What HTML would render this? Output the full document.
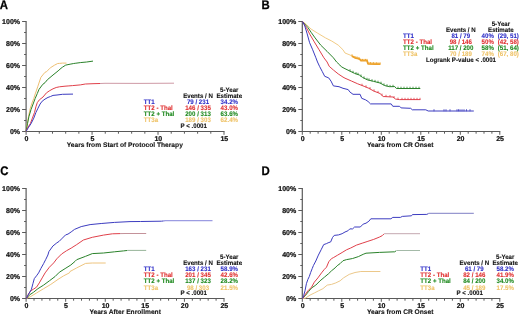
<!DOCTYPE html>
<html><head><meta charset="utf-8"><style>
html,body{margin:0;padding:0;background:#fff;}
svg{display:block;font-family:"Liberation Sans", sans-serif;will-change:transform;text-rendering:geometricPrecision;}
</style></head><body>
<svg width="520" height="314" viewBox="0 0 520 314">
<rect width="520" height="314" fill="#fff"/>
<text transform="translate(-0.3,8.8) scale(0.92,1)" font-size="12.4" font-weight="bold" fill="#000" stroke="#000" stroke-width="0.25">A</text>
<text transform="translate(261.4,8.8) scale(0.92,1)" font-size="12.4" font-weight="bold" fill="#000" stroke="#000" stroke-width="0.25">B</text>
<text transform="translate(0.2,174.6) scale(0.92,1)" font-size="12.4" font-weight="bold" fill="#000" stroke="#000" stroke-width="0.25">C</text>
<text transform="translate(261.4,174.5) scale(0.92,1)" font-size="12.4" font-weight="bold" fill="#000" stroke="#000" stroke-width="0.25">D</text>
<line x1="26.1" y1="21.0" x2="26.1" y2="132.0" stroke="#5a5a5a" stroke-width="1.2"/>
<line x1="22.1" y1="131.50" x2="26.1" y2="131.50" stroke="#5a5a5a" stroke-width="1"/>
<text x="20.0" y="134.2" font-size="7.0" text-anchor="end" fill="#111" font-weight="bold" stroke="#111" stroke-width="0.22" >0%</text>
<line x1="24.1" y1="120.50" x2="26.1" y2="120.50" stroke="#5a5a5a" stroke-width="1"/>
<line x1="22.1" y1="109.50" x2="26.1" y2="109.50" stroke="#5a5a5a" stroke-width="1"/>
<text x="20.0" y="112.2" font-size="7.0" text-anchor="end" fill="#111" font-weight="bold" stroke="#111" stroke-width="0.22" >20%</text>
<line x1="24.1" y1="98.50" x2="26.1" y2="98.50" stroke="#5a5a5a" stroke-width="1"/>
<line x1="22.1" y1="87.50" x2="26.1" y2="87.50" stroke="#5a5a5a" stroke-width="1"/>
<text x="20.0" y="90.2" font-size="7.0" text-anchor="end" fill="#111" font-weight="bold" stroke="#111" stroke-width="0.22" >40%</text>
<line x1="24.1" y1="76.50" x2="26.1" y2="76.50" stroke="#5a5a5a" stroke-width="1"/>
<line x1="22.1" y1="65.50" x2="26.1" y2="65.50" stroke="#5a5a5a" stroke-width="1"/>
<text x="20.0" y="68.2" font-size="7.0" text-anchor="end" fill="#111" font-weight="bold" stroke="#111" stroke-width="0.22" >60%</text>
<line x1="24.1" y1="54.50" x2="26.1" y2="54.50" stroke="#5a5a5a" stroke-width="1"/>
<line x1="22.1" y1="43.50" x2="26.1" y2="43.50" stroke="#5a5a5a" stroke-width="1"/>
<text x="20.0" y="46.2" font-size="7.0" text-anchor="end" fill="#111" font-weight="bold" stroke="#111" stroke-width="0.22" >80%</text>
<line x1="24.1" y1="32.50" x2="26.1" y2="32.50" stroke="#5a5a5a" stroke-width="1"/>
<line x1="22.1" y1="21.50" x2="26.1" y2="21.50" stroke="#5a5a5a" stroke-width="1"/>
<text x="20.0" y="24.2" font-size="7.0" text-anchor="end" fill="#111" font-weight="bold" stroke="#111" stroke-width="0.22" >100%</text>
<line x1="25.6" y1="131.5" x2="224.5" y2="131.5" stroke="#5a5a5a" stroke-width="1.2"/>
<line x1="26.10" y1="131.5" x2="26.10" y2="134.8" stroke="#5a5a5a" stroke-width="1"/>
<text x="26.400000000000002" y="140.9" font-size="7.0" text-anchor="middle" fill="#111" font-weight="bold" stroke="#111" stroke-width="0.22" >0</text>
<line x1="39.29" y1="131.5" x2="39.29" y2="133.7" stroke="#5a5a5a" stroke-width="1"/>
<line x1="52.49" y1="131.5" x2="52.49" y2="133.7" stroke="#5a5a5a" stroke-width="1"/>
<line x1="65.68" y1="131.5" x2="65.68" y2="133.7" stroke="#5a5a5a" stroke-width="1"/>
<line x1="78.87" y1="131.5" x2="78.87" y2="133.7" stroke="#5a5a5a" stroke-width="1"/>
<line x1="92.07" y1="131.5" x2="92.07" y2="134.8" stroke="#5a5a5a" stroke-width="1"/>
<text x="92.36666666666666" y="140.9" font-size="7.0" text-anchor="middle" fill="#111" font-weight="bold" stroke="#111" stroke-width="0.22" >5</text>
<line x1="105.26" y1="131.5" x2="105.26" y2="133.7" stroke="#5a5a5a" stroke-width="1"/>
<line x1="118.45" y1="131.5" x2="118.45" y2="133.7" stroke="#5a5a5a" stroke-width="1"/>
<line x1="131.65" y1="131.5" x2="131.65" y2="133.7" stroke="#5a5a5a" stroke-width="1"/>
<line x1="144.84" y1="131.5" x2="144.84" y2="133.7" stroke="#5a5a5a" stroke-width="1"/>
<line x1="158.03" y1="131.5" x2="158.03" y2="134.8" stroke="#5a5a5a" stroke-width="1"/>
<text x="158.33333333333334" y="140.9" font-size="7.0" text-anchor="middle" fill="#111" font-weight="bold" stroke="#111" stroke-width="0.22" >10</text>
<line x1="171.23" y1="131.5" x2="171.23" y2="133.7" stroke="#5a5a5a" stroke-width="1"/>
<line x1="184.42" y1="131.5" x2="184.42" y2="133.7" stroke="#5a5a5a" stroke-width="1"/>
<line x1="197.61" y1="131.5" x2="197.61" y2="133.7" stroke="#5a5a5a" stroke-width="1"/>
<line x1="210.81" y1="131.5" x2="210.81" y2="133.7" stroke="#5a5a5a" stroke-width="1"/>
<line x1="224.00" y1="131.5" x2="224.00" y2="134.8" stroke="#5a5a5a" stroke-width="1"/>
<text x="224.3" y="140.9" font-size="7.0" text-anchor="middle" fill="#111" font-weight="bold" stroke="#111" stroke-width="0.22" >15</text>
<text x="66.7" y="147.4" font-size="6.67" text-anchor="start" fill="#111" font-weight="bold" stroke="#111" stroke-width="0.1" >Years from Start of Protocol Therapy</text>
<polyline points="26.0,131.5 27.2,124.0 28.6,116.0 30.3,108.2 32.0,103.0 33.8,98.4 35.2,94.0 36.6,90.0 37.7,86.8 40.9,77.3 43.5,74.1 45.0,72.3 46.7,71.6 49.8,68.3 50.5,67.7 54.6,65.1 57.7,63.5 59.4,63.4 62.5,63.1 66.5,63.1" fill="none" stroke="#eebf72" stroke-width="1.0" stroke-linejoin="round" opacity="1"/>
<polyline points="26.0,131.5 27.5,123.7 28.9,116.7 31.0,109.6 33.1,104.0 35.2,98.4 37.3,93.5 39.0,89.4 42.8,84.3 45.0,82.7 47.3,79.8 53.0,75.0 58.1,70.9 61.0,68.3 62.6,67.1 65.7,65.1 70.1,64.2 73.7,63.5 75.2,63.3 80.3,62.6 86.7,62.0 93.0,61.1" fill="none" stroke="#2a822a" stroke-width="1.0" stroke-linejoin="round" opacity="1"/>
<polyline points="26.0,131.5 27.5,127.9 30.3,123.7 32.4,118.1 34.5,112.5 35.9,106.8 37.3,102.6 39.4,99.8 43.0,97.0 46.5,92.8 49.8,90.6 53.0,88.8 56.2,87.5 59.4,86.8 65.0,86.2 68.9,85.9 72.6,85.6 80.3,84.9 85.4,84.0 93.0,83.7 100.0,83.5" fill="none" stroke="#e0404a" stroke-width="1.0" stroke-linejoin="round" opacity="1"/>
<polyline points="100.0,83.5 105.0,83.3 140.0,83.4 174.0,83.2" fill="none" stroke="#cf9aa6" stroke-width="1.0" stroke-linejoin="round" opacity="1"/>
<polyline points="26.0,131.5 28.2,127.9 31.0,123.7 33.8,118.1 35.9,112.5 38.0,108.2 40.1,104.0 42.2,101.2 45.0,99.1 48.0,97.4 50.5,96.5 53.0,95.4 57.0,95.0 62.5,94.3 73.0,94.1" fill="none" stroke="#3c3cc0" stroke-width="1.0" stroke-linejoin="round" opacity="1"/>
<text transform="translate(229.30,92.10) scale(0.93,1)" font-size="6.6" text-anchor="middle" fill="#111" font-weight="bold" stroke="#111" stroke-width="0.1" >5-Year</text>
<text transform="translate(198.00,98.10) scale(0.93,1)" font-size="6.6" text-anchor="middle" fill="#111" font-weight="bold" stroke="#111" stroke-width="0.1" >Events / N</text>
<text transform="translate(229.30,98.10) scale(0.93,1)" font-size="6.6" text-anchor="middle" fill="#111" font-weight="bold" stroke="#111" stroke-width="0.1" >Estimate</text>
<text transform="translate(143.80,103.90) scale(0.93,1)" font-size="6.6" text-anchor="start" fill="#3030c8" font-weight="bold" stroke="#3030c8" stroke-width="0.1" >TT1</text>
<text transform="translate(198.00,103.90) scale(0.93,1)" font-size="6.6" text-anchor="middle" fill="#3030c8" font-weight="bold" stroke="#3030c8" stroke-width="0.1" >79 / 231</text>
<text transform="translate(229.30,103.90) scale(0.93,1)" font-size="6.6" text-anchor="middle" fill="#3030c8" font-weight="bold" stroke="#3030c8" stroke-width="0.1" >34.2%</text>
<text transform="translate(143.80,110.00) scale(0.93,1)" font-size="6.6" text-anchor="start" fill="#e03030" font-weight="bold" stroke="#e03030" stroke-width="0.1" >TT2 - Thal</text>
<text transform="translate(198.00,110.00) scale(0.93,1)" font-size="6.6" text-anchor="middle" fill="#e03030" font-weight="bold" stroke="#e03030" stroke-width="0.1" >146 / 335</text>
<text transform="translate(229.30,110.00) scale(0.93,1)" font-size="6.6" text-anchor="middle" fill="#e03030" font-weight="bold" stroke="#e03030" stroke-width="0.1" >43.0%</text>
<text transform="translate(143.80,116.10) scale(0.93,1)" font-size="6.6" text-anchor="start" fill="#208a20" font-weight="bold" stroke="#208a20" stroke-width="0.1" >TT2 + Thal</text>
<text transform="translate(198.00,116.10) scale(0.93,1)" font-size="6.6" text-anchor="middle" fill="#208a20" font-weight="bold" stroke="#208a20" stroke-width="0.1" >200 / 313</text>
<text transform="translate(229.30,116.10) scale(0.93,1)" font-size="6.6" text-anchor="middle" fill="#208a20" font-weight="bold" stroke="#208a20" stroke-width="0.1" >63.6%</text>
<text transform="translate(143.80,122.20) scale(0.93,1)" font-size="6.6" text-anchor="start" fill="#efc46a" font-weight="bold" stroke="#efc46a" stroke-width="0.1" >TT3a</text>
<text transform="translate(198.00,122.20) scale(0.93,1)" font-size="6.6" text-anchor="middle" fill="#efc46a" font-weight="bold" stroke="#efc46a" stroke-width="0.1" >189 / 303</text>
<text transform="translate(229.30,122.20) scale(0.93,1)" font-size="6.6" text-anchor="middle" fill="#efc46a" font-weight="bold" stroke="#efc46a" stroke-width="0.1" >62.4%</text>
<text transform="translate(193.70,128.00) scale(0.93,1)" font-size="6.6" text-anchor="middle" fill="#111" font-weight="bold" stroke="#111" stroke-width="0.1" >P &lt; .0001</text>
<line x1="302.3" y1="21.0" x2="302.3" y2="132.0" stroke="#5a5a5a" stroke-width="1.2"/>
<line x1="298.3" y1="131.50" x2="302.3" y2="131.50" stroke="#5a5a5a" stroke-width="1"/>
<text x="296.2" y="134.2" font-size="7.0" text-anchor="end" fill="#111" font-weight="bold" stroke="#111" stroke-width="0.22" >0%</text>
<line x1="300.3" y1="120.50" x2="302.3" y2="120.50" stroke="#5a5a5a" stroke-width="1"/>
<line x1="298.3" y1="109.50" x2="302.3" y2="109.50" stroke="#5a5a5a" stroke-width="1"/>
<text x="296.2" y="112.2" font-size="7.0" text-anchor="end" fill="#111" font-weight="bold" stroke="#111" stroke-width="0.22" >20%</text>
<line x1="300.3" y1="98.50" x2="302.3" y2="98.50" stroke="#5a5a5a" stroke-width="1"/>
<line x1="298.3" y1="87.50" x2="302.3" y2="87.50" stroke="#5a5a5a" stroke-width="1"/>
<text x="296.2" y="90.2" font-size="7.0" text-anchor="end" fill="#111" font-weight="bold" stroke="#111" stroke-width="0.22" >40%</text>
<line x1="300.3" y1="76.50" x2="302.3" y2="76.50" stroke="#5a5a5a" stroke-width="1"/>
<line x1="298.3" y1="65.50" x2="302.3" y2="65.50" stroke="#5a5a5a" stroke-width="1"/>
<text x="296.2" y="68.2" font-size="7.0" text-anchor="end" fill="#111" font-weight="bold" stroke="#111" stroke-width="0.22" >60%</text>
<line x1="300.3" y1="54.50" x2="302.3" y2="54.50" stroke="#5a5a5a" stroke-width="1"/>
<line x1="298.3" y1="43.50" x2="302.3" y2="43.50" stroke="#5a5a5a" stroke-width="1"/>
<text x="296.2" y="46.2" font-size="7.0" text-anchor="end" fill="#111" font-weight="bold" stroke="#111" stroke-width="0.22" >80%</text>
<line x1="300.3" y1="32.50" x2="302.3" y2="32.50" stroke="#5a5a5a" stroke-width="1"/>
<line x1="298.3" y1="21.50" x2="302.3" y2="21.50" stroke="#5a5a5a" stroke-width="1"/>
<text x="296.2" y="24.2" font-size="7.0" text-anchor="end" fill="#111" font-weight="bold" stroke="#111" stroke-width="0.22" >100%</text>
<line x1="301.8" y1="131.5" x2="500.3" y2="131.5" stroke="#5a5a5a" stroke-width="1.2"/>
<line x1="302.30" y1="131.5" x2="302.30" y2="134.8" stroke="#5a5a5a" stroke-width="1"/>
<text x="302.6" y="140.9" font-size="7.0" text-anchor="middle" fill="#111" font-weight="bold" stroke="#111" stroke-width="0.22" >0</text>
<line x1="310.20" y1="131.5" x2="310.20" y2="133.7" stroke="#5a5a5a" stroke-width="1"/>
<line x1="318.10" y1="131.5" x2="318.10" y2="133.7" stroke="#5a5a5a" stroke-width="1"/>
<line x1="326.00" y1="131.5" x2="326.00" y2="133.7" stroke="#5a5a5a" stroke-width="1"/>
<line x1="333.90" y1="131.5" x2="333.90" y2="133.7" stroke="#5a5a5a" stroke-width="1"/>
<line x1="341.80" y1="131.5" x2="341.80" y2="134.8" stroke="#5a5a5a" stroke-width="1"/>
<text x="342.1" y="140.9" font-size="7.0" text-anchor="middle" fill="#111" font-weight="bold" stroke="#111" stroke-width="0.22" >5</text>
<line x1="349.70" y1="131.5" x2="349.70" y2="133.7" stroke="#5a5a5a" stroke-width="1"/>
<line x1="357.60" y1="131.5" x2="357.60" y2="133.7" stroke="#5a5a5a" stroke-width="1"/>
<line x1="365.50" y1="131.5" x2="365.50" y2="133.7" stroke="#5a5a5a" stroke-width="1"/>
<line x1="373.40" y1="131.5" x2="373.40" y2="133.7" stroke="#5a5a5a" stroke-width="1"/>
<line x1="381.30" y1="131.5" x2="381.30" y2="134.8" stroke="#5a5a5a" stroke-width="1"/>
<text x="381.6" y="140.9" font-size="7.0" text-anchor="middle" fill="#111" font-weight="bold" stroke="#111" stroke-width="0.22" >10</text>
<line x1="389.20" y1="131.5" x2="389.20" y2="133.7" stroke="#5a5a5a" stroke-width="1"/>
<line x1="397.10" y1="131.5" x2="397.10" y2="133.7" stroke="#5a5a5a" stroke-width="1"/>
<line x1="405.00" y1="131.5" x2="405.00" y2="133.7" stroke="#5a5a5a" stroke-width="1"/>
<line x1="412.90" y1="131.5" x2="412.90" y2="133.7" stroke="#5a5a5a" stroke-width="1"/>
<line x1="420.80" y1="131.5" x2="420.80" y2="134.8" stroke="#5a5a5a" stroke-width="1"/>
<text x="421.1" y="140.9" font-size="7.0" text-anchor="middle" fill="#111" font-weight="bold" stroke="#111" stroke-width="0.22" >15</text>
<line x1="428.70" y1="131.5" x2="428.70" y2="133.7" stroke="#5a5a5a" stroke-width="1"/>
<line x1="436.60" y1="131.5" x2="436.60" y2="133.7" stroke="#5a5a5a" stroke-width="1"/>
<line x1="444.50" y1="131.5" x2="444.50" y2="133.7" stroke="#5a5a5a" stroke-width="1"/>
<line x1="452.40" y1="131.5" x2="452.40" y2="133.7" stroke="#5a5a5a" stroke-width="1"/>
<line x1="460.30" y1="131.5" x2="460.30" y2="134.8" stroke="#5a5a5a" stroke-width="1"/>
<text x="460.6" y="140.9" font-size="7.0" text-anchor="middle" fill="#111" font-weight="bold" stroke="#111" stroke-width="0.22" >20</text>
<line x1="468.20" y1="131.5" x2="468.20" y2="133.7" stroke="#5a5a5a" stroke-width="1"/>
<line x1="476.10" y1="131.5" x2="476.10" y2="133.7" stroke="#5a5a5a" stroke-width="1"/>
<line x1="484.00" y1="131.5" x2="484.00" y2="133.7" stroke="#5a5a5a" stroke-width="1"/>
<line x1="491.90" y1="131.5" x2="491.90" y2="133.7" stroke="#5a5a5a" stroke-width="1"/>
<line x1="499.80" y1="131.5" x2="499.80" y2="134.8" stroke="#5a5a5a" stroke-width="1"/>
<text x="500.1" y="140.9" font-size="7.0" text-anchor="middle" fill="#111" font-weight="bold" stroke="#111" stroke-width="0.22" >25</text>
<text x="366.9" y="147.4" font-size="6.67" text-anchor="start" fill="#111" font-weight="bold" stroke="#111" stroke-width="0.1" >Years from CR Onset</text>
<polyline points="302.5,21.5 306.4,24.4 311.1,29.1 317.5,33.1 325.5,37.9 331.8,41.1 338.2,45.1 343.0,49.8 345.0,53.0 350.0,55.0 352.0,56.1" fill="none" stroke="#f2cc86" stroke-width="1.0" stroke-linejoin="round" opacity="1"/>
<polyline points="352.0,56.1 355.0,57.8 358.5,58.6 360.2,59.5 360.8,60.7 367.1,60.7 368.0,63.8 375.2,64.1 380.4,64.1" fill="none" stroke="#eca028" stroke-width="1.8" stroke-linejoin="round" opacity="1"/>
<polyline points="302.5,21.5 308.0,27.6 311.1,32.3 315.1,37.9 320.7,45.1 327.1,51.4 333.4,57.8 336.6,62.0 339.8,65.0 341.4,66.8 345.0,68.7 349.8,71.0 354.6,73.4 359.3,75.0 362.5,77.4 367.3,79.8 373.7,81.4 380.0,83.0 384.8,85.6 389.6,86.7 394.8,86.6 396.4,88.5 420.3,88.5" fill="none" stroke="#2a822a" stroke-width="1.0" stroke-linejoin="round" opacity="1"/>
<polyline points="302.5,21.5 306.4,27.6 309.6,33.9 314.3,41.9 319.1,49.8 323.9,57.8 327.1,62.0 329.2,66.3 333.4,70.0 338.2,73.9 343.0,77.1 345.0,78.2 351.4,81.0 357.7,83.8 364.1,86.3 368.9,88.3 373.7,91.0 380.0,93.5 383.2,96.5 393.0,97.0 395.6,99.1 399.6,99.6 420.3,99.6" fill="none" stroke="#e0404a" stroke-width="1.0" stroke-linejoin="round" opacity="1"/>
<polyline points="302.5,21.5 304.8,26.0 307.2,33.9 309.6,42.7 312.7,49.8 315.9,57.8 317.5,62.0 319.5,66.3 322.3,71.6 324.7,76.3 328.7,77.9 331.0,81.1 333.4,85.9 339.0,86.7 343.0,88.3 345.0,88.8 348.2,89.6 349.8,91.9 353.0,94.3 360.1,94.3 361.7,98.3 365.7,99.9 368.1,101.5 370.5,103.9 391.2,103.9 392.8,106.3 399.6,106.3 401.1,107.9 410.7,108.3 412.3,109.8 425.8,109.8 428.2,111.0 473.8,111.0" fill="none" stroke="#3c3cc0" stroke-width="1.0" stroke-linejoin="round" opacity="1"/>
<line x1="352.0" y1="56.4" x2="352.0" y2="54.3" stroke="#eea632" stroke-width="1.0"/>
<line x1="355.0" y1="58.1" x2="355.0" y2="56.0" stroke="#eea632" stroke-width="1.0"/>
<line x1="357.0" y1="58.6" x2="357.0" y2="56.5" stroke="#eea632" stroke-width="1.0"/>
<line x1="359.0" y1="59.2" x2="359.0" y2="57.1" stroke="#eea632" stroke-width="1.0"/>
<line x1="361.0" y1="61.0" x2="361.0" y2="58.9" stroke="#eea632" stroke-width="1.0"/>
<line x1="362.5" y1="61.0" x2="362.5" y2="58.9" stroke="#eea632" stroke-width="1.0"/>
<line x1="364.0" y1="61.0" x2="364.0" y2="58.9" stroke="#eea632" stroke-width="1.0"/>
<line x1="365.5" y1="61.0" x2="365.5" y2="58.9" stroke="#eea632" stroke-width="1.0"/>
<line x1="367.0" y1="61.0" x2="367.0" y2="58.9" stroke="#eea632" stroke-width="1.0"/>
<line x1="369.0" y1="64.1" x2="369.0" y2="62.0" stroke="#eea632" stroke-width="1.0"/>
<line x1="370.5" y1="64.2" x2="370.5" y2="62.1" stroke="#eea632" stroke-width="1.0"/>
<line x1="372.0" y1="64.3" x2="372.0" y2="62.2" stroke="#eea632" stroke-width="1.0"/>
<line x1="373.5" y1="64.3" x2="373.5" y2="62.2" stroke="#eea632" stroke-width="1.0"/>
<line x1="375.0" y1="64.4" x2="375.0" y2="62.3" stroke="#eea632" stroke-width="1.0"/>
<line x1="376.5" y1="64.4" x2="376.5" y2="62.3" stroke="#eea632" stroke-width="1.0"/>
<line x1="378.0" y1="64.4" x2="378.0" y2="62.3" stroke="#eea632" stroke-width="1.0"/>
<line x1="380.0" y1="64.4" x2="380.0" y2="62.3" stroke="#eea632" stroke-width="1.0"/>
<line x1="350.0" y1="71.4" x2="350.0" y2="69.3" stroke="#2a822a" stroke-width="0.8"/>
<line x1="353.0" y1="72.9" x2="353.0" y2="70.8" stroke="#2a822a" stroke-width="0.8"/>
<line x1="356.0" y1="74.2" x2="356.0" y2="72.1" stroke="#2a822a" stroke-width="0.8"/>
<line x1="358.0" y1="74.9" x2="358.0" y2="72.8" stroke="#2a822a" stroke-width="0.8"/>
<line x1="361.0" y1="76.6" x2="361.0" y2="74.5" stroke="#2a822a" stroke-width="0.8"/>
<line x1="364.0" y1="78.5" x2="364.0" y2="76.4" stroke="#2a822a" stroke-width="0.8"/>
<line x1="367.0" y1="79.9" x2="367.0" y2="77.8" stroke="#2a822a" stroke-width="0.8"/>
<line x1="369.0" y1="80.5" x2="369.0" y2="78.4" stroke="#2a822a" stroke-width="0.8"/>
<line x1="372.0" y1="81.3" x2="372.0" y2="79.2" stroke="#2a822a" stroke-width="0.8"/>
<line x1="375.0" y1="82.0" x2="375.0" y2="79.9" stroke="#2a822a" stroke-width="0.8"/>
<line x1="378.0" y1="82.8" x2="378.0" y2="80.7" stroke="#2a822a" stroke-width="0.8"/>
<line x1="381.0" y1="83.8" x2="381.0" y2="81.7" stroke="#2a822a" stroke-width="0.8"/>
<line x1="384.0" y1="85.5" x2="384.0" y2="83.4" stroke="#2a822a" stroke-width="0.8"/>
<line x1="387.0" y1="86.4" x2="387.0" y2="84.3" stroke="#2a822a" stroke-width="0.8"/>
<line x1="390.0" y1="87.0" x2="390.0" y2="84.9" stroke="#2a822a" stroke-width="0.8"/>
<line x1="393.0" y1="86.9" x2="393.0" y2="84.8" stroke="#2a822a" stroke-width="0.8"/>
<line x1="398.0" y1="88.8" x2="398.0" y2="86.7" stroke="#2a822a" stroke-width="0.8"/>
<line x1="401.0" y1="88.8" x2="401.0" y2="86.7" stroke="#2a822a" stroke-width="0.8"/>
<line x1="404.0" y1="88.8" x2="404.0" y2="86.7" stroke="#2a822a" stroke-width="0.8"/>
<line x1="407.0" y1="88.8" x2="407.0" y2="86.7" stroke="#2a822a" stroke-width="0.8"/>
<line x1="410.0" y1="88.8" x2="410.0" y2="86.7" stroke="#2a822a" stroke-width="0.8"/>
<line x1="413.0" y1="88.8" x2="413.0" y2="86.7" stroke="#2a822a" stroke-width="0.8"/>
<line x1="416.0" y1="88.8" x2="416.0" y2="86.7" stroke="#2a822a" stroke-width="0.8"/>
<line x1="419.0" y1="88.8" x2="419.0" y2="86.7" stroke="#2a822a" stroke-width="0.8"/>
<line x1="362.0" y1="85.8" x2="362.0" y2="83.7" stroke="#e0404a" stroke-width="0.8"/>
<line x1="366.0" y1="87.4" x2="366.0" y2="85.3" stroke="#e0404a" stroke-width="0.8"/>
<line x1="370.0" y1="89.2" x2="370.0" y2="87.1" stroke="#e0404a" stroke-width="0.8"/>
<line x1="374.0" y1="91.4" x2="374.0" y2="89.3" stroke="#e0404a" stroke-width="0.8"/>
<line x1="378.0" y1="93.0" x2="378.0" y2="90.9" stroke="#e0404a" stroke-width="0.8"/>
<line x1="382.0" y1="95.7" x2="382.0" y2="93.6" stroke="#e0404a" stroke-width="0.8"/>
<line x1="386.0" y1="96.9" x2="386.0" y2="94.8" stroke="#e0404a" stroke-width="0.8"/>
<line x1="390.0" y1="97.1" x2="390.0" y2="95.0" stroke="#e0404a" stroke-width="0.8"/>
<line x1="394.0" y1="98.1" x2="394.0" y2="96.0" stroke="#e0404a" stroke-width="0.8"/>
<line x1="398.0" y1="99.7" x2="398.0" y2="97.6" stroke="#e0404a" stroke-width="0.8"/>
<line x1="402.0" y1="99.9" x2="402.0" y2="97.8" stroke="#e0404a" stroke-width="0.8"/>
<line x1="405.0" y1="99.9" x2="405.0" y2="97.8" stroke="#e0404a" stroke-width="0.8"/>
<line x1="408.0" y1="99.9" x2="408.0" y2="97.8" stroke="#e0404a" stroke-width="0.8"/>
<line x1="411.0" y1="99.9" x2="411.0" y2="97.8" stroke="#e0404a" stroke-width="0.8"/>
<line x1="414.0" y1="99.9" x2="414.0" y2="97.8" stroke="#e0404a" stroke-width="0.8"/>
<line x1="417.0" y1="99.9" x2="417.0" y2="97.8" stroke="#e0404a" stroke-width="0.8"/>
<line x1="420.0" y1="99.9" x2="420.0" y2="97.8" stroke="#e0404a" stroke-width="0.8"/>
<line x1="434.0" y1="111.3" x2="434.0" y2="109.2" stroke="#3c3cc0" stroke-width="0.8"/>
<line x1="444.0" y1="111.3" x2="444.0" y2="109.2" stroke="#3c3cc0" stroke-width="0.8"/>
<line x1="446.0" y1="111.3" x2="446.0" y2="109.2" stroke="#3c3cc0" stroke-width="0.8"/>
<line x1="450.0" y1="111.3" x2="450.0" y2="109.2" stroke="#3c3cc0" stroke-width="0.8"/>
<line x1="457.0" y1="111.3" x2="457.0" y2="109.2" stroke="#3c3cc0" stroke-width="0.8"/>
<line x1="458.5" y1="111.3" x2="458.5" y2="109.2" stroke="#3c3cc0" stroke-width="0.8"/>
<line x1="460.0" y1="111.3" x2="460.0" y2="109.2" stroke="#3c3cc0" stroke-width="0.8"/>
<line x1="462.0" y1="111.3" x2="462.0" y2="109.2" stroke="#3c3cc0" stroke-width="0.8"/>
<line x1="464.0" y1="111.3" x2="464.0" y2="109.2" stroke="#3c3cc0" stroke-width="0.8"/>
<line x1="466.5" y1="111.3" x2="466.5" y2="109.2" stroke="#3c3cc0" stroke-width="0.8"/>
<line x1="470.0" y1="111.3" x2="470.0" y2="109.2" stroke="#3c3cc0" stroke-width="0.8"/>
<text transform="translate(500.90,25.90) scale(0.93,1)" font-size="6.6" text-anchor="middle" fill="#111" font-weight="bold" stroke="#111" stroke-width="0.1" >5-Year</text>
<text transform="translate(460.80,31.90) scale(0.93,1)" font-size="6.6" text-anchor="middle" fill="#111" font-weight="bold" stroke="#111" stroke-width="0.1" >Events / N</text>
<text transform="translate(500.90,31.90) scale(0.93,1)" font-size="6.6" text-anchor="middle" fill="#111" font-weight="bold" stroke="#111" stroke-width="0.1" >Estimate</text>
<text transform="translate(403.10,37.70) scale(0.93,1)" font-size="6.6" text-anchor="start" fill="#3030c8" font-weight="bold" stroke="#3030c8" stroke-width="0.1" >TT1</text>
<text transform="translate(460.80,37.70) scale(0.93,1)" font-size="6.6" text-anchor="middle" fill="#3030c8" font-weight="bold" stroke="#3030c8" stroke-width="0.1" >81 / 79</text>
<text transform="translate(481.60,37.70) scale(0.93,1)" font-size="6.6" text-anchor="start" fill="#3030c8" font-weight="bold" stroke="#3030c8" stroke-width="0.1" >40%</text>
<text transform="translate(497.70,37.70) scale(0.93,1)" font-size="6.6" text-anchor="start" fill="#3030c8" font-weight="bold" stroke="#3030c8" stroke-width="0.1" >(29, 51)</text>
<text transform="translate(403.10,43.80) scale(0.93,1)" font-size="6.6" text-anchor="start" fill="#e03030" font-weight="bold" stroke="#e03030" stroke-width="0.1" >TT2 - Thal</text>
<text transform="translate(460.80,43.80) scale(0.93,1)" font-size="6.6" text-anchor="middle" fill="#e03030" font-weight="bold" stroke="#e03030" stroke-width="0.1" >98 / 146</text>
<text transform="translate(481.60,43.80) scale(0.93,1)" font-size="6.6" text-anchor="start" fill="#e03030" font-weight="bold" stroke="#e03030" stroke-width="0.1" >50%</text>
<text transform="translate(497.70,43.80) scale(0.93,1)" font-size="6.6" text-anchor="start" fill="#e03030" font-weight="bold" stroke="#e03030" stroke-width="0.1" >(42, 58)</text>
<text transform="translate(403.10,49.90) scale(0.93,1)" font-size="6.6" text-anchor="start" fill="#208a20" font-weight="bold" stroke="#208a20" stroke-width="0.1" >TT2 + Thal</text>
<text transform="translate(460.80,49.90) scale(0.93,1)" font-size="6.6" text-anchor="middle" fill="#208a20" font-weight="bold" stroke="#208a20" stroke-width="0.1" >117 / 200</text>
<text transform="translate(481.60,49.90) scale(0.93,1)" font-size="6.6" text-anchor="start" fill="#208a20" font-weight="bold" stroke="#208a20" stroke-width="0.1" >58%</text>
<text transform="translate(497.70,49.90) scale(0.93,1)" font-size="6.6" text-anchor="start" fill="#208a20" font-weight="bold" stroke="#208a20" stroke-width="0.1" >(51, 64)</text>
<text transform="translate(403.10,56.00) scale(0.93,1)" font-size="6.6" text-anchor="start" fill="#efc46a" font-weight="bold" stroke="#efc46a" stroke-width="0.1" >TT3a</text>
<text transform="translate(460.80,56.00) scale(0.93,1)" font-size="6.6" text-anchor="middle" fill="#efc46a" font-weight="bold" stroke="#efc46a" stroke-width="0.1" >70 / 189</text>
<text transform="translate(481.60,56.00) scale(0.93,1)" font-size="6.6" text-anchor="start" fill="#efc46a" font-weight="bold" stroke="#efc46a" stroke-width="0.1" >74%</text>
<text transform="translate(497.70,56.00) scale(0.93,1)" font-size="6.6" text-anchor="start" fill="#efc46a" font-weight="bold" stroke="#efc46a" stroke-width="0.1" >(67, 80)</text>
<text transform="translate(461.00,61.80) scale(0.93,1)" font-size="6.6" text-anchor="middle" fill="#111" font-weight="bold" stroke="#111" stroke-width="0.1" >Logrank P-value &lt; .0001</text>
<line x1="26.1" y1="188.0" x2="26.1" y2="299.0" stroke="#5a5a5a" stroke-width="1.2"/>
<line x1="22.1" y1="298.50" x2="26.1" y2="298.50" stroke="#5a5a5a" stroke-width="1"/>
<text x="20.0" y="301.2" font-size="7.0" text-anchor="end" fill="#111" font-weight="bold" stroke="#111" stroke-width="0.22" >0%</text>
<line x1="24.1" y1="287.50" x2="26.1" y2="287.50" stroke="#5a5a5a" stroke-width="1"/>
<line x1="22.1" y1="276.50" x2="26.1" y2="276.50" stroke="#5a5a5a" stroke-width="1"/>
<text x="20.0" y="279.2" font-size="7.0" text-anchor="end" fill="#111" font-weight="bold" stroke="#111" stroke-width="0.22" >20%</text>
<line x1="24.1" y1="265.50" x2="26.1" y2="265.50" stroke="#5a5a5a" stroke-width="1"/>
<line x1="22.1" y1="254.50" x2="26.1" y2="254.50" stroke="#5a5a5a" stroke-width="1"/>
<text x="20.0" y="257.2" font-size="7.0" text-anchor="end" fill="#111" font-weight="bold" stroke="#111" stroke-width="0.22" >40%</text>
<line x1="24.1" y1="243.50" x2="26.1" y2="243.50" stroke="#5a5a5a" stroke-width="1"/>
<line x1="22.1" y1="232.50" x2="26.1" y2="232.50" stroke="#5a5a5a" stroke-width="1"/>
<text x="20.0" y="235.2" font-size="7.0" text-anchor="end" fill="#111" font-weight="bold" stroke="#111" stroke-width="0.22" >60%</text>
<line x1="24.1" y1="221.50" x2="26.1" y2="221.50" stroke="#5a5a5a" stroke-width="1"/>
<line x1="22.1" y1="210.50" x2="26.1" y2="210.50" stroke="#5a5a5a" stroke-width="1"/>
<text x="20.0" y="213.2" font-size="7.0" text-anchor="end" fill="#111" font-weight="bold" stroke="#111" stroke-width="0.22" >80%</text>
<line x1="24.1" y1="199.50" x2="26.1" y2="199.50" stroke="#5a5a5a" stroke-width="1"/>
<line x1="22.1" y1="188.50" x2="26.1" y2="188.50" stroke="#5a5a5a" stroke-width="1"/>
<text x="20.0" y="191.2" font-size="7.0" text-anchor="end" fill="#111" font-weight="bold" stroke="#111" stroke-width="0.22" >100%</text>
<line x1="25.6" y1="298.5" x2="224.5" y2="298.5" stroke="#5a5a5a" stroke-width="1.2"/>
<line x1="26.10" y1="298.5" x2="26.10" y2="301.8" stroke="#5a5a5a" stroke-width="1"/>
<text x="26.400000000000002" y="307.9" font-size="7.0" text-anchor="middle" fill="#111" font-weight="bold" stroke="#111" stroke-width="0.22" >0</text>
<line x1="34.02" y1="298.5" x2="34.02" y2="300.7" stroke="#5a5a5a" stroke-width="1"/>
<line x1="41.93" y1="298.5" x2="41.93" y2="300.7" stroke="#5a5a5a" stroke-width="1"/>
<line x1="49.85" y1="298.5" x2="49.85" y2="300.7" stroke="#5a5a5a" stroke-width="1"/>
<line x1="57.76" y1="298.5" x2="57.76" y2="300.7" stroke="#5a5a5a" stroke-width="1"/>
<line x1="65.68" y1="298.5" x2="65.68" y2="301.8" stroke="#5a5a5a" stroke-width="1"/>
<text x="65.98" y="307.9" font-size="7.0" text-anchor="middle" fill="#111" font-weight="bold" stroke="#111" stroke-width="0.22" >5</text>
<line x1="73.60" y1="298.5" x2="73.60" y2="300.7" stroke="#5a5a5a" stroke-width="1"/>
<line x1="81.51" y1="298.5" x2="81.51" y2="300.7" stroke="#5a5a5a" stroke-width="1"/>
<line x1="89.43" y1="298.5" x2="89.43" y2="300.7" stroke="#5a5a5a" stroke-width="1"/>
<line x1="97.34" y1="298.5" x2="97.34" y2="300.7" stroke="#5a5a5a" stroke-width="1"/>
<line x1="105.26" y1="298.5" x2="105.26" y2="301.8" stroke="#5a5a5a" stroke-width="1"/>
<text x="105.55999999999999" y="307.9" font-size="7.0" text-anchor="middle" fill="#111" font-weight="bold" stroke="#111" stroke-width="0.22" >10</text>
<line x1="113.18" y1="298.5" x2="113.18" y2="300.7" stroke="#5a5a5a" stroke-width="1"/>
<line x1="121.09" y1="298.5" x2="121.09" y2="300.7" stroke="#5a5a5a" stroke-width="1"/>
<line x1="129.01" y1="298.5" x2="129.01" y2="300.7" stroke="#5a5a5a" stroke-width="1"/>
<line x1="136.92" y1="298.5" x2="136.92" y2="300.7" stroke="#5a5a5a" stroke-width="1"/>
<line x1="144.84" y1="298.5" x2="144.84" y2="301.8" stroke="#5a5a5a" stroke-width="1"/>
<text x="145.14000000000001" y="307.9" font-size="7.0" text-anchor="middle" fill="#111" font-weight="bold" stroke="#111" stroke-width="0.22" >15</text>
<line x1="152.76" y1="298.5" x2="152.76" y2="300.7" stroke="#5a5a5a" stroke-width="1"/>
<line x1="160.67" y1="298.5" x2="160.67" y2="300.7" stroke="#5a5a5a" stroke-width="1"/>
<line x1="168.59" y1="298.5" x2="168.59" y2="300.7" stroke="#5a5a5a" stroke-width="1"/>
<line x1="176.50" y1="298.5" x2="176.50" y2="300.7" stroke="#5a5a5a" stroke-width="1"/>
<line x1="184.42" y1="298.5" x2="184.42" y2="301.8" stroke="#5a5a5a" stroke-width="1"/>
<text x="184.72" y="307.9" font-size="7.0" text-anchor="middle" fill="#111" font-weight="bold" stroke="#111" stroke-width="0.22" >20</text>
<line x1="192.34" y1="298.5" x2="192.34" y2="300.7" stroke="#5a5a5a" stroke-width="1"/>
<line x1="200.25" y1="298.5" x2="200.25" y2="300.7" stroke="#5a5a5a" stroke-width="1"/>
<line x1="208.17" y1="298.5" x2="208.17" y2="300.7" stroke="#5a5a5a" stroke-width="1"/>
<line x1="216.08" y1="298.5" x2="216.08" y2="300.7" stroke="#5a5a5a" stroke-width="1"/>
<line x1="224.00" y1="298.5" x2="224.00" y2="301.8" stroke="#5a5a5a" stroke-width="1"/>
<text x="224.3" y="307.9" font-size="7.0" text-anchor="middle" fill="#111" font-weight="bold" stroke="#111" stroke-width="0.22" >25</text>
<text x="89.4" y="314.3" font-size="6.67" text-anchor="start" fill="#111" font-weight="bold" stroke="#111" stroke-width="0.1" >Years After Enrollment</text>
<polyline points="26.4,298.5 30.7,296.5 36.5,293.0 43.6,288.7 50.8,284.4 58.0,279.4 63.7,275.8 69.4,272.9 70.0,271.5 76.7,267.9 85.6,263.4 92.3,263.0 105.7,263.0" fill="none" stroke="#eec47e" stroke-width="1.0" stroke-linejoin="round" opacity="1"/>
<polyline points="26.4,298.5 29.3,295.1 33.6,292.2 37.9,288.7 43.6,285.1 49.4,280.8 55.1,276.5 59.4,272.2 65.1,268.6 70.8,265.0 75.0,261.4 76.7,259.7 85.6,256.3 92.3,253.6 103.5,253.0 114.6,251.8 123.5,250.9 127.0,250.5" fill="none" stroke="#2a822a" stroke-width="1.0" stroke-linejoin="round" opacity="1"/>
<polyline points="127.0,250.5 127.9,250.4 146.2,250.4" fill="none" stroke="#98b49a" stroke-width="1.0" stroke-linejoin="round" opacity="1"/>
<polyline points="26.4,298.5 28.5,294.0 30.7,290.8 33.6,289.1 36.5,287.2 39.3,282.9 42.2,277.9 45.1,272.9 49.4,267.2 53.7,262.9 56.8,258.8 61.6,254.0 66.4,250.8 71.2,248.1 76.7,244.6 83.4,240.0 92.3,237.3 103.5,235.1 112.4,233.8 120.0,233.6" fill="none" stroke="#e0404a" stroke-width="1.0" stroke-linejoin="round" opacity="1"/>
<polyline points="120.0,233.6 125.0,233.5 146.2,233.5" fill="none" stroke="#c4929a" stroke-width="1.0" stroke-linejoin="round" opacity="1"/>
<polyline points="26.4,298.5 27.5,296.0 29.3,293.0 31.4,289.4 32.9,283.7 34.3,278.6 36.5,275.8 38.6,272.9 40.8,268.6 43.6,263.6 45.8,259.3 47.9,255.0 48.9,251.6 52.9,246.0 56.8,242.9 59.2,241.3 62.4,238.1 65.6,234.9 68.0,234.1 71.2,231.9 74.5,229.4 81.2,226.6 90.1,224.6 101.2,223.5 114.6,222.4 130.0,221.6 140.4,221.5 161.5,221.2 163.0,221.0" fill="none" stroke="#3c3cc0" stroke-width="1.0" stroke-linejoin="round" opacity="1"/>
<polyline points="163.0,221.0 165.4,220.6 212.5,220.6" fill="none" stroke="#9c9ce2" stroke-width="1.3" stroke-linejoin="round" opacity="1"/>
<text transform="translate(229.30,259.40) scale(0.93,1)" font-size="6.6" text-anchor="middle" fill="#111" font-weight="bold" stroke="#111" stroke-width="0.1" >5-Year</text>
<text transform="translate(198.00,265.40) scale(0.93,1)" font-size="6.6" text-anchor="middle" fill="#111" font-weight="bold" stroke="#111" stroke-width="0.1" >Events / N</text>
<text transform="translate(229.30,265.40) scale(0.93,1)" font-size="6.6" text-anchor="middle" fill="#111" font-weight="bold" stroke="#111" stroke-width="0.1" >Estimate</text>
<text transform="translate(143.80,271.20) scale(0.93,1)" font-size="6.6" text-anchor="start" fill="#3030c8" font-weight="bold" stroke="#3030c8" stroke-width="0.1" >TT1</text>
<text transform="translate(198.00,271.20) scale(0.93,1)" font-size="6.6" text-anchor="middle" fill="#3030c8" font-weight="bold" stroke="#3030c8" stroke-width="0.1" >163 / 231</text>
<text transform="translate(229.30,271.20) scale(0.93,1)" font-size="6.6" text-anchor="middle" fill="#3030c8" font-weight="bold" stroke="#3030c8" stroke-width="0.1" >58.9%</text>
<text transform="translate(143.80,277.30) scale(0.93,1)" font-size="6.6" text-anchor="start" fill="#e03030" font-weight="bold" stroke="#e03030" stroke-width="0.1" >TT2 - Thal</text>
<text transform="translate(198.00,277.30) scale(0.93,1)" font-size="6.6" text-anchor="middle" fill="#e03030" font-weight="bold" stroke="#e03030" stroke-width="0.1" >201 / 345</text>
<text transform="translate(229.30,277.30) scale(0.93,1)" font-size="6.6" text-anchor="middle" fill="#e03030" font-weight="bold" stroke="#e03030" stroke-width="0.1" >42.6%</text>
<text transform="translate(143.80,283.40) scale(0.93,1)" font-size="6.6" text-anchor="start" fill="#208a20" font-weight="bold" stroke="#208a20" stroke-width="0.1" >TT2 + Thal</text>
<text transform="translate(198.00,283.40) scale(0.93,1)" font-size="6.6" text-anchor="middle" fill="#208a20" font-weight="bold" stroke="#208a20" stroke-width="0.1" >137 / 323</text>
<text transform="translate(229.30,283.40) scale(0.93,1)" font-size="6.6" text-anchor="middle" fill="#208a20" font-weight="bold" stroke="#208a20" stroke-width="0.1" >28.2%</text>
<text transform="translate(143.80,289.50) scale(0.93,1)" font-size="6.6" text-anchor="start" fill="#efc46a" font-weight="bold" stroke="#efc46a" stroke-width="0.1" >TT3a</text>
<text transform="translate(198.00,289.50) scale(0.93,1)" font-size="6.6" text-anchor="middle" fill="#efc46a" font-weight="bold" stroke="#efc46a" stroke-width="0.1" >98 / 303</text>
<text transform="translate(229.30,289.50) scale(0.93,1)" font-size="6.6" text-anchor="middle" fill="#efc46a" font-weight="bold" stroke="#efc46a" stroke-width="0.1" >21.5%</text>
<text transform="translate(193.70,295.30) scale(0.93,1)" font-size="6.6" text-anchor="middle" fill="#111" font-weight="bold" stroke="#111" stroke-width="0.1" >P &lt; .0001</text>
<line x1="302.3" y1="188.0" x2="302.3" y2="299.0" stroke="#5a5a5a" stroke-width="1.2"/>
<line x1="298.3" y1="298.50" x2="302.3" y2="298.50" stroke="#5a5a5a" stroke-width="1"/>
<text x="296.2" y="301.2" font-size="7.0" text-anchor="end" fill="#111" font-weight="bold" stroke="#111" stroke-width="0.22" >0%</text>
<line x1="300.3" y1="287.50" x2="302.3" y2="287.50" stroke="#5a5a5a" stroke-width="1"/>
<line x1="298.3" y1="276.50" x2="302.3" y2="276.50" stroke="#5a5a5a" stroke-width="1"/>
<text x="296.2" y="279.2" font-size="7.0" text-anchor="end" fill="#111" font-weight="bold" stroke="#111" stroke-width="0.22" >20%</text>
<line x1="300.3" y1="265.50" x2="302.3" y2="265.50" stroke="#5a5a5a" stroke-width="1"/>
<line x1="298.3" y1="254.50" x2="302.3" y2="254.50" stroke="#5a5a5a" stroke-width="1"/>
<text x="296.2" y="257.2" font-size="7.0" text-anchor="end" fill="#111" font-weight="bold" stroke="#111" stroke-width="0.22" >40%</text>
<line x1="300.3" y1="243.50" x2="302.3" y2="243.50" stroke="#5a5a5a" stroke-width="1"/>
<line x1="298.3" y1="232.50" x2="302.3" y2="232.50" stroke="#5a5a5a" stroke-width="1"/>
<text x="296.2" y="235.2" font-size="7.0" text-anchor="end" fill="#111" font-weight="bold" stroke="#111" stroke-width="0.22" >60%</text>
<line x1="300.3" y1="221.50" x2="302.3" y2="221.50" stroke="#5a5a5a" stroke-width="1"/>
<line x1="298.3" y1="210.50" x2="302.3" y2="210.50" stroke="#5a5a5a" stroke-width="1"/>
<text x="296.2" y="213.2" font-size="7.0" text-anchor="end" fill="#111" font-weight="bold" stroke="#111" stroke-width="0.22" >80%</text>
<line x1="300.3" y1="199.50" x2="302.3" y2="199.50" stroke="#5a5a5a" stroke-width="1"/>
<line x1="298.3" y1="188.50" x2="302.3" y2="188.50" stroke="#5a5a5a" stroke-width="1"/>
<text x="296.2" y="191.2" font-size="7.0" text-anchor="end" fill="#111" font-weight="bold" stroke="#111" stroke-width="0.22" >100%</text>
<line x1="301.8" y1="298.5" x2="500.3" y2="298.5" stroke="#5a5a5a" stroke-width="1.2"/>
<line x1="302.30" y1="298.5" x2="302.30" y2="301.8" stroke="#5a5a5a" stroke-width="1"/>
<text x="302.6" y="307.9" font-size="7.0" text-anchor="middle" fill="#111" font-weight="bold" stroke="#111" stroke-width="0.22" >0</text>
<line x1="310.20" y1="298.5" x2="310.20" y2="300.7" stroke="#5a5a5a" stroke-width="1"/>
<line x1="318.10" y1="298.5" x2="318.10" y2="300.7" stroke="#5a5a5a" stroke-width="1"/>
<line x1="326.00" y1="298.5" x2="326.00" y2="300.7" stroke="#5a5a5a" stroke-width="1"/>
<line x1="333.90" y1="298.5" x2="333.90" y2="300.7" stroke="#5a5a5a" stroke-width="1"/>
<line x1="341.80" y1="298.5" x2="341.80" y2="301.8" stroke="#5a5a5a" stroke-width="1"/>
<text x="342.1" y="307.9" font-size="7.0" text-anchor="middle" fill="#111" font-weight="bold" stroke="#111" stroke-width="0.22" >5</text>
<line x1="349.70" y1="298.5" x2="349.70" y2="300.7" stroke="#5a5a5a" stroke-width="1"/>
<line x1="357.60" y1="298.5" x2="357.60" y2="300.7" stroke="#5a5a5a" stroke-width="1"/>
<line x1="365.50" y1="298.5" x2="365.50" y2="300.7" stroke="#5a5a5a" stroke-width="1"/>
<line x1="373.40" y1="298.5" x2="373.40" y2="300.7" stroke="#5a5a5a" stroke-width="1"/>
<line x1="381.30" y1="298.5" x2="381.30" y2="301.8" stroke="#5a5a5a" stroke-width="1"/>
<text x="381.6" y="307.9" font-size="7.0" text-anchor="middle" fill="#111" font-weight="bold" stroke="#111" stroke-width="0.22" >10</text>
<line x1="389.20" y1="298.5" x2="389.20" y2="300.7" stroke="#5a5a5a" stroke-width="1"/>
<line x1="397.10" y1="298.5" x2="397.10" y2="300.7" stroke="#5a5a5a" stroke-width="1"/>
<line x1="405.00" y1="298.5" x2="405.00" y2="300.7" stroke="#5a5a5a" stroke-width="1"/>
<line x1="412.90" y1="298.5" x2="412.90" y2="300.7" stroke="#5a5a5a" stroke-width="1"/>
<line x1="420.80" y1="298.5" x2="420.80" y2="301.8" stroke="#5a5a5a" stroke-width="1"/>
<text x="421.1" y="307.9" font-size="7.0" text-anchor="middle" fill="#111" font-weight="bold" stroke="#111" stroke-width="0.22" >15</text>
<line x1="428.70" y1="298.5" x2="428.70" y2="300.7" stroke="#5a5a5a" stroke-width="1"/>
<line x1="436.60" y1="298.5" x2="436.60" y2="300.7" stroke="#5a5a5a" stroke-width="1"/>
<line x1="444.50" y1="298.5" x2="444.50" y2="300.7" stroke="#5a5a5a" stroke-width="1"/>
<line x1="452.40" y1="298.5" x2="452.40" y2="300.7" stroke="#5a5a5a" stroke-width="1"/>
<line x1="460.30" y1="298.5" x2="460.30" y2="301.8" stroke="#5a5a5a" stroke-width="1"/>
<text x="460.6" y="307.9" font-size="7.0" text-anchor="middle" fill="#111" font-weight="bold" stroke="#111" stroke-width="0.22" >20</text>
<line x1="468.20" y1="298.5" x2="468.20" y2="300.7" stroke="#5a5a5a" stroke-width="1"/>
<line x1="476.10" y1="298.5" x2="476.10" y2="300.7" stroke="#5a5a5a" stroke-width="1"/>
<line x1="484.00" y1="298.5" x2="484.00" y2="300.7" stroke="#5a5a5a" stroke-width="1"/>
<line x1="491.90" y1="298.5" x2="491.90" y2="300.7" stroke="#5a5a5a" stroke-width="1"/>
<line x1="499.80" y1="298.5" x2="499.80" y2="301.8" stroke="#5a5a5a" stroke-width="1"/>
<text x="500.1" y="307.9" font-size="7.0" text-anchor="middle" fill="#111" font-weight="bold" stroke="#111" stroke-width="0.22" >25</text>
<text x="366.9" y="314.3" font-size="6.67" text-anchor="start" fill="#111" font-weight="bold" stroke="#111" stroke-width="0.1" >Years from CR Onset</text>
<polyline points="302.6,298.5 305.7,298.0 310.0,295.1 314.3,293.0 318.6,290.8 322.9,288.7 327.2,285.1 331.5,284.4 335.8,282.9 340.1,280.8 343.5,277.9 349.2,274.4 355.0,272.5 360.8,271.5 380.4,271.5" fill="none" stroke="#ecc88a" stroke-width="1.0" stroke-linejoin="round" opacity="1"/>
<polyline points="302.6,298.5 305.7,295.1 308.6,291.5 311.5,288.0 315.8,285.1 320.1,280.8 324.4,277.2 328.7,273.6 331.5,270.8 335.1,267.9 337.2,265.7 340.1,263.6 343.0,260.7 346.6,259.6 350.0,259.0 352.6,258.5 358.4,256.6 363.2,254.3 366.0,253.2 379.4,252.4 394.7,251.8 396.0,250.9" fill="none" stroke="#2a822a" stroke-width="1.0" stroke-linejoin="round" opacity="1"/>
<polyline points="396.0,250.9 396.6,250.5 420.0,250.5" fill="none" stroke="#a4baa8" stroke-width="1.0" stroke-linejoin="round" opacity="1"/>
<polyline points="302.6,298.5 304.3,295.8 307.9,290.8 311.5,287.2 314.3,282.2 317.9,277.9 321.5,272.9 324.4,269.3 326.5,267.2 328.8,261.7 331.5,258.6 333.3,257.7 337.7,255.1 342.1,252.5 346.5,249.8 350.7,248.0 356.5,245.1 362.2,243.2 367.9,241.3 373.7,239.4 379.4,237.1 382.3,235.6 384.0,233.9" fill="none" stroke="#e0404a" stroke-width="1.0" stroke-linejoin="round" opacity="1"/>
<polyline points="384.0,233.9 384.2,233.7 420.0,233.7" fill="none" stroke="#c4a8b0" stroke-width="1.0" stroke-linejoin="round" opacity="1"/>
<polyline points="302.6,298.5 303.6,295.8 305.0,290.8 306.4,283.7 307.9,279.4 309.3,276.5 310.7,272.4 312.2,268.6 313.4,265.6 315.8,261.0 318.4,255.1 321.1,249.8 323.7,244.6 326.3,243.7 328.1,242.8 330.7,241.9 332.5,237.5 334.2,235.4 338.6,234.9 342.1,233.7 345.0,232.0 347.9,230.8 349.8,228.9 352.6,228.9 354.6,227.0 360.3,227.0 363.2,224.1 366.0,223.2 368.9,221.2 370.8,218.8 390.9,218.8 392.8,217.4 400.4,217.4 402.3,216.4 411.5,215.8 412.4,214.6 426.8,214.4 428.0,213.8" fill="none" stroke="#3c3cc0" stroke-width="1.0" stroke-linejoin="round" opacity="1"/>
<polyline points="428.0,213.8 428.7,213.4 473.8,213.4" fill="none" stroke="#9898d0" stroke-width="1.2" stroke-linejoin="round" opacity="1"/>
<text transform="translate(505.20,259.40) scale(0.93,1)" font-size="6.6" text-anchor="middle" fill="#111" font-weight="bold" stroke="#111" stroke-width="0.1" >5-Year</text>
<text transform="translate(474.30,265.40) scale(0.93,1)" font-size="6.6" text-anchor="middle" fill="#111" font-weight="bold" stroke="#111" stroke-width="0.1" >Events / N</text>
<text transform="translate(505.20,265.40) scale(0.93,1)" font-size="6.6" text-anchor="middle" fill="#111" font-weight="bold" stroke="#111" stroke-width="0.1" >Estimate</text>
<text transform="translate(420.30,271.20) scale(0.93,1)" font-size="6.6" text-anchor="start" fill="#3030c8" font-weight="bold" stroke="#3030c8" stroke-width="0.1" >TT1</text>
<text transform="translate(474.30,271.20) scale(0.93,1)" font-size="6.6" text-anchor="middle" fill="#3030c8" font-weight="bold" stroke="#3030c8" stroke-width="0.1" >61 / 79</text>
<text transform="translate(505.20,271.20) scale(0.93,1)" font-size="6.6" text-anchor="middle" fill="#3030c8" font-weight="bold" stroke="#3030c8" stroke-width="0.1" >58.2%</text>
<text transform="translate(420.30,277.30) scale(0.93,1)" font-size="6.6" text-anchor="start" fill="#e03030" font-weight="bold" stroke="#e03030" stroke-width="0.1" >TT2 - Thal</text>
<text transform="translate(474.30,277.30) scale(0.93,1)" font-size="6.6" text-anchor="middle" fill="#e03030" font-weight="bold" stroke="#e03030" stroke-width="0.1" >82 / 146</text>
<text transform="translate(505.20,277.30) scale(0.93,1)" font-size="6.6" text-anchor="middle" fill="#e03030" font-weight="bold" stroke="#e03030" stroke-width="0.1" >41.9%</text>
<text transform="translate(420.30,283.40) scale(0.93,1)" font-size="6.6" text-anchor="start" fill="#208a20" font-weight="bold" stroke="#208a20" stroke-width="0.1" >TT2 + Thal</text>
<text transform="translate(474.30,283.40) scale(0.93,1)" font-size="6.6" text-anchor="middle" fill="#208a20" font-weight="bold" stroke="#208a20" stroke-width="0.1" >84 / 200</text>
<text transform="translate(505.20,283.40) scale(0.93,1)" font-size="6.6" text-anchor="middle" fill="#208a20" font-weight="bold" stroke="#208a20" stroke-width="0.1" >34.0%</text>
<text transform="translate(420.30,289.50) scale(0.93,1)" font-size="6.6" text-anchor="start" fill="#efc46a" font-weight="bold" stroke="#efc46a" stroke-width="0.1" >TT3a</text>
<text transform="translate(474.30,289.50) scale(0.93,1)" font-size="6.6" text-anchor="middle" fill="#efc46a" font-weight="bold" stroke="#efc46a" stroke-width="0.1" >45 / 189</text>
<text transform="translate(505.20,289.50) scale(0.93,1)" font-size="6.6" text-anchor="middle" fill="#efc46a" font-weight="bold" stroke="#efc46a" stroke-width="0.1" >17.5%</text>
<text transform="translate(469.70,295.30) scale(0.93,1)" font-size="6.6" text-anchor="middle" fill="#111" font-weight="bold" stroke="#111" stroke-width="0.1" >P &lt; .0001</text>
</svg></body></html>
